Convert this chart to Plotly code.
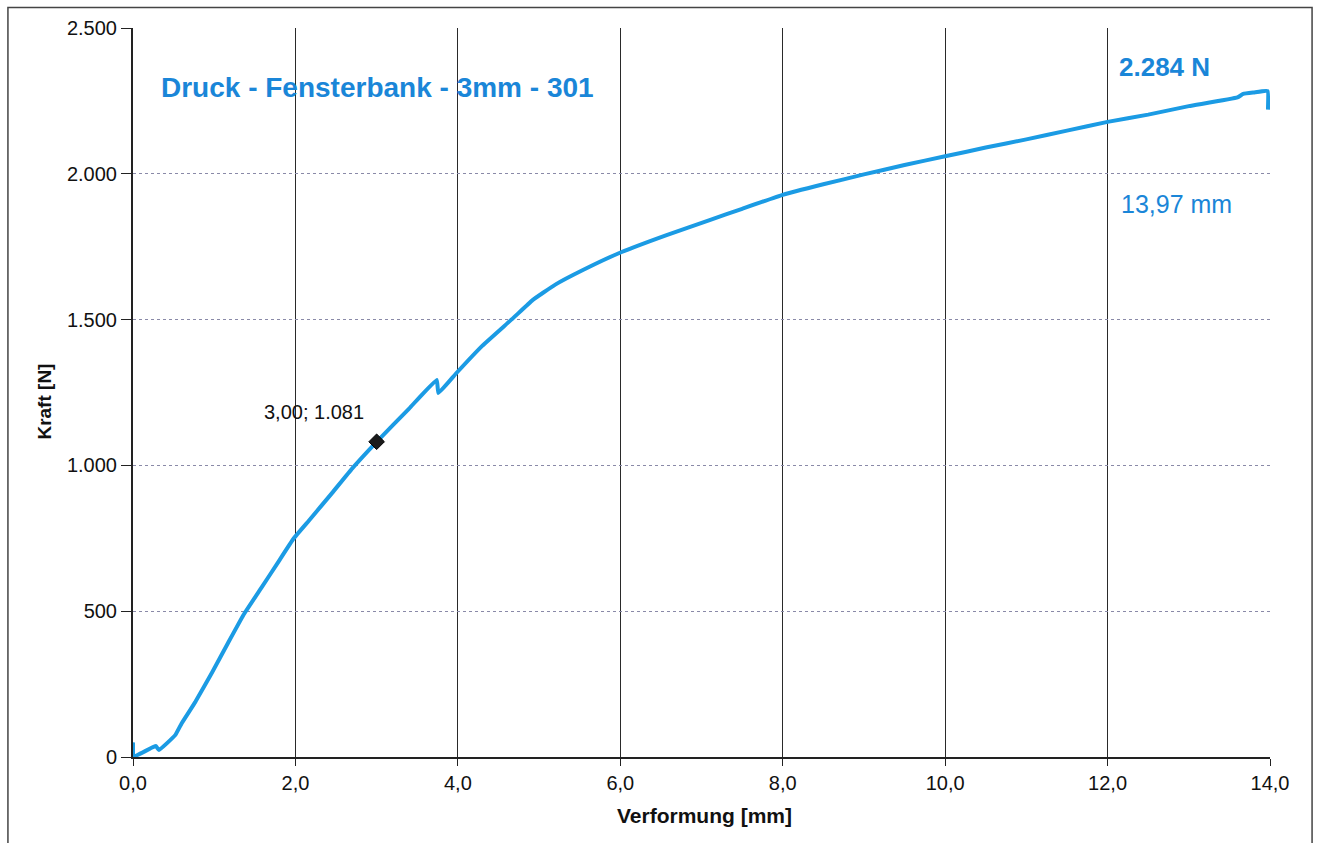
import plotly.graph_objects as go

# Kraft-Verformungs-Kurve (Druckversuch Fensterbank, 3 mm, Probe 301)
verformung_mm = [0.0, 0.0, 0.0, 0.28, 0.32, 0.52, 0.60, 0.77, 0.97, 1.17, 1.36, 1.58,
                 1.78, 1.98, 2.17, 2.45, 2.70, 3.00, 3.40, 3.74, 3.76, 3.98, 4.30, 4.68,
                 4.92, 5.20, 5.54, 6.01, 6.57, 7.10, 7.50, 8.00, 8.50, 9.00, 9.50,
                 10.00, 10.50, 11.00, 11.50, 12.00, 12.50, 13.00, 13.60, 13.67,
                 13.80, 13.97, 13.975]
kraft_n = [0, 50, 0, 38, 24, 75, 116, 190, 288, 391, 487, 580,
           665, 750, 812, 905, 990, 1081, 1195, 1293, 1248, 1316, 1410, 1505,
           1567, 1620, 1670, 1731, 1790, 1841, 1880, 1928, 1964, 1998, 2030,
           2060, 2090, 2118, 2148, 2178, 2203, 2232, 2262, 2274,
           2279, 2284, 2220]

# markierter Messpunkt
punkt_x = [3.00]
punkt_y = [1081]
punkt_text = ["3,00; 1.081"]

max_kraft_text = "2.284 N"
max_weg_text = "13,97 mm"
titel = "Druck - Fensterbank - 3mm - 301"

x_ticks = [0, 2, 4, 6, 8, 10, 12, 14]
x_ticktext = ["0,0", "2,0", "4,0", "6,0", "8,0", "10,0", "12,0", "14,0"]
y_ticks = [0, 500, 1000, 1500, 2000, 2500]
y_ticktext = ["0", "500", "1.000", "1.500", "2.000", "2.500"]

BLUE = "#1b9be4"
TEXT_BLUE = "#1a86d8"
FONT = "Liberation Sans, Arial, sans-serif"

fig = go.Figure()

fig.add_trace(go.Scatter(
    x=verformung_mm, y=kraft_n, mode="lines",
    line=dict(color=BLUE, width=4, shape="spline", smoothing=0.3),
    hoverinfo="skip", showlegend=False,
))

fig.add_trace(go.Scatter(
    x=punkt_x, y=punkt_y, mode="markers",
    marker=dict(symbol="diamond", size=12, color="#1a1a1a",
                line=dict(color="#000000", width=1)),
    showlegend=False,
))

# Beschriftung des Messpunkts
fig.add_annotation(x=punkt_x[0], y=punkt_y[0], text=punkt_text[0],
                   showarrow=False, xanchor="right", yanchor="bottom",
                   xshift=-11, yshift=17,
                   font=dict(family=FONT, size=20, color="#111111"))

fig.add_annotation(xref="paper", yref="paper", x=0.023, y=0.919,
                   text="<b>" + titel + "</b>", showarrow=False,
                   xanchor="left", yanchor="middle",
                   font=dict(family=FONT, size=28, color=TEXT_BLUE))

fig.add_annotation(xref="paper", yref="paper", x=0.865, y=0.947,
                   text="<b>" + max_kraft_text + "</b>", showarrow=False,
                   xanchor="left", yanchor="middle",
                   font=dict(family=FONT, size=26, color=TEXT_BLUE))

fig.add_annotation(xref="paper", yref="paper", x=0.867, y=0.758,
                   text=max_weg_text, showarrow=False,
                   xanchor="left", yanchor="middle",
                   font=dict(family=FONT, size=25, color=TEXT_BLUE))

# Achsentitel
fig.add_annotation(xref="paper", yref="paper", x=0.503, y=-0.080,
                   text="<b>Verformung [mm]</b>", showarrow=False,
                   xanchor="center", yanchor="middle",
                   font=dict(family=FONT, size=21, color="#111111"))
fig.add_annotation(xref="paper", yref="paper", x=-0.078, y=0.488,
                   text="<b>Kraft [N]</b>", showarrow=False, textangle=-90,
                   xanchor="center", yanchor="middle",
                   font=dict(family=FONT, size=19, color="#111111"))

# äußerer Rahmen
fig.add_shape(type="rect", xref="paper", yref="paper",
              x0=-0.110, x1=1.037, y0=-0.125, y1=1.028,
              line=dict(color="#444444", width=1.5), fillcolor="rgba(0,0,0,0)",
              layer="below")

fig.update_xaxes(
    range=[0, 14], tickvals=x_ticks, ticktext=x_ticktext,
    showgrid=True, gridcolor="#2a2a2a", gridwidth=1,
    showline=True, linecolor="#222222", linewidth=2, mirror=False,
    ticks="outside", ticklen=7, tickcolor="#222222",
    tickfont=dict(family=FONT, size=20, color="#111111"),
    zeroline=False,
)
fig.update_yaxes(
    range=[0, 2500], tickvals=y_ticks, ticktext=y_ticktext,
    showgrid=True, gridcolor="#8a8aa8", gridwidth=1, griddash="dot",
    showline=True, linecolor="#222222", linewidth=2,
    ticks="outside", ticklen=10, tickcolor="#222222",
    tickfont=dict(family=FONT, size=20, color="#111111"),
    zeroline=False,
)

fig.update_layout(
    width=1321, height=843,
    margin=dict(l=133, r=51, t=28, b=86),
    plot_bgcolor="white", paper_bgcolor="white",
    font=dict(family=FONT),
)

fig.write_html("out.html")
